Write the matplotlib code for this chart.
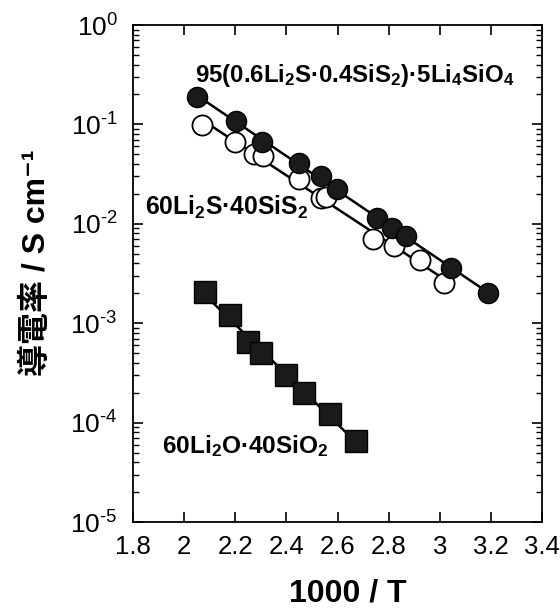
import numpy as np
import matplotlib
matplotlib.use('Agg')
import matplotlib.pyplot as plt
from matplotlib.ticker import LogLocator, NullFormatter, FixedLocator

# 95(0.6Li2S-0.4SiS2)-5Li4SiO4 (filled circles)
x_oxy = [2.052, 2.203, 2.303, 2.451, 2.534, 2.597, 2.753, 2.812, 2.868, 3.043, 3.188]
y_oxy = [0.189, 0.108, 0.066, 0.0407, 0.030, 0.0226, 0.0114, 0.00904, 0.00757, 0.00356, 0.00202]

# 60Li2S-40SiS2 (open circles)
x_sul = [2.069, 2.199, 2.273, 2.307, 2.451, 2.536, 2.555, 2.740, 2.821, 2.923, 3.018]
y_sul = [0.0977, 0.066, 0.0498, 0.0486, 0.0283, 0.0182, 0.0187, 0.0070, 0.0060, 0.0043, 0.00255]

# 60Li2O-40SiO2 (squares)
x_ox = [2.082, 2.179, 2.249, 2.300, 2.399, 2.470, 2.571, 2.673]
y_ox = [0.00207, 0.00120, 0.000648, 0.000501, 0.000298, 0.000198, 0.000121, 6.58e-5]

xticks = [1.8, 2.0, 2.2, 2.4, 2.6, 2.8, 3.0, 3.2, 3.4]
xticklabels = ['1.8', '2', '2.2', '2.4', '2.6', '2.8', '3', '3.2', '3.4']
yexp = [0, -1, -2, -3, -4, -5]

SANS = ['Liberation Sans', 'DejaVu Sans']
plt.rcParams['font.family'] = SANS
plt.rcParams['mathtext.fontset'] = 'custom'
plt.rcParams['mathtext.rm'] = 'Liberation Sans'
plt.rcParams['mathtext.bf'] = 'Liberation Sans:bold'
plt.rcParams['mathtext.default'] = 'regular'


def fitline(ax, x, y):
    # straight Arrhenius fit through the points
    p = np.polyfit(x, np.log10(y), 1)
    xx = np.array([min(x), max(x)])
    ax.plot(xx, 10 ** np.polyval(p, xx), color='black', lw=1.8, zorder=1)


def explabel(e):
    if e < 0:
        return r'$10^{\text{-}%d}$' % (-e)
    return r'$10^{%d}$' % e


def main():
    fig = plt.figure(figsize=(5.6, 6.11), dpi=100)
    ax = fig.add_axes([133 / 560, 1 - 522 / 611, 409 / 560, 497 / 611])

    fitline(ax, x_oxy, y_oxy)
    fitline(ax, x_sul, y_sul)
    fitline(ax, x_ox, y_ox)

    ax.plot(x_sul, y_sul, 'o', ms=14.5, mfc='white', mec='black', mew=1.3, ls='none', zorder=2)
    ax.plot(x_oxy, y_oxy, 'o', ms=14.5, mfc='#1a1a1a', mec='black', mew=1.0, ls='none', zorder=3)
    ax.plot(x_ox, y_ox, 's', ms=15.5, mfc='#1a1a1a', mec='black', mew=1.0, ls='none', zorder=3)

    ax.set_yscale('log')
    ax.set_xlim(1.8, 3.4)
    ax.set_ylim(1e-5, 1e0)

    ax.xaxis.set_major_locator(FixedLocator(xticks))
    ax.set_xticklabels(xticklabels, fontsize=18.5)
    ax.yaxis.set_major_locator(FixedLocator([10.0 ** e for e in yexp]))
    ax.set_yticklabels([explabel(e) for e in yexp], fontsize=19)
    ax.yaxis.set_minor_locator(LogLocator(base=10, subs=np.arange(2, 10), numticks=20))
    ax.yaxis.set_minor_formatter(NullFormatter())

    ax.tick_params(which='major', direction='in', length=7, width=1.2,
                   top=True, right=True)
    ax.tick_params(axis='x', pad=9)
    ax.tick_params(axis='y', pad=11)
    ax.tick_params(which='minor', direction='in', length=4, width=1.0,
                   left=True, right=True)
    for s in ax.spines.values():
        s.set_linewidth(1.3)

    ax.text(0.152, 0.885, r'95(0.6Li$_\mathbf{2}$S·0.4SiS$_\mathbf{2}$)·5Li$_\mathbf{4}$SiO$_\mathbf{4}$',
            transform=ax.transAxes, fontweight='bold', fontsize=17.3, va='baseline')
    ax.text(0.029, 0.618, r'60Li$_\mathbf{2}$S·40SiS$_\mathbf{2}$',
            transform=ax.transAxes, fontweight='bold', fontsize=17.8, va='baseline')
    ax.text(0.071, 0.139, r'60Li$_\mathbf{2}$O·40SiO$_\mathbf{2}$',
            transform=ax.transAxes, fontweight='bold', fontsize=17.6, va='baseline')

    fig.text(0.066, 0.570, '導電率 / S cm⁻¹', rotation=90, ha='center', va='center',
             family=['Liberation Sans', 'Noto Sans CJK JP', 'DejaVu Sans'],
             fontweight='bold', fontsize=23)
    fig.text(348 / 560, 0.028, '1000 / T', ha='center', va='center',
             fontweight='bold', fontsize=23)

    fig.savefig('out.png', dpi=100)
    return 0


if __name__ == '__main__':
    main()
